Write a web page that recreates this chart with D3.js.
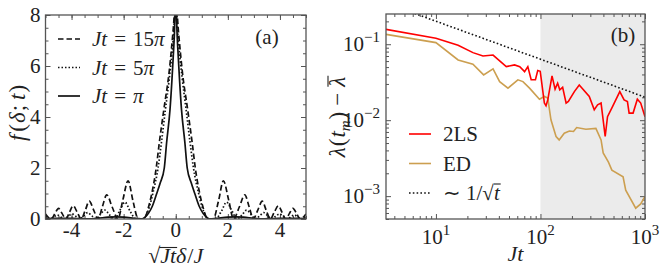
<!DOCTYPE html>
<html>
<head>
<meta charset="utf-8">
<script src="https://cdn.jsdelivr.net/npm/d3@7"></script>
<style>
  body { margin: 0; background: #fff; }
  svg { display: block; }
  text { fill: #222; white-space: pre; }
</style>
</head>
<body>
<svg id="fig" width="665" height="278"></svg>
<script>
// ---- panel (a): f(delta; t) vs sqrt(Jt) delta / J
const xDash = [-5, -4.78, -4.64, -4.5, -4.36, -4.22, -4.08, -3.94, -3.78, -3.63, -3.47, -3.32, -3.15, -2.98, -2.82, -2.65, -2.44, -2.22, -2.03, -1.83, -1.64, -1.45, -1.25, -1.15, -1.05, -0.92, -0.75, -0.63, -0.46, -0.25, -0.1, 0,
  0.1, 0.25, 0.46, 0.63, 0.75, 0.92, 1.05, 1.15, 1.25, 1.45, 1.64, 1.83, 2.03, 2.22, 2.44, 2.65, 2.82, 2.98, 3.15, 3.32, 3.47, 3.63, 3.78, 3.94, 4.08, 4.22, 4.36, 4.5, 4.64, 4.78, 5]
const fDash = [0.2, 0, 0.21, 0.42, 0.21, 0, 0.26, 0.52, 0.26, 0, 0.35, 0.7, 0.35, 0, 0.47, 0.95, 0.47, 0, 0.75, 1.5, 0.7, 0.02, 0, 0.12, 0.45, 1.0, 2.0, 3.0, 4.27, 5.8, 7.4, 8.6,
  7.4, 5.8, 4.27, 3.0, 2.0, 1.0, 0.45, 0.12, 0, 0.02, 0.7, 1.5, 0.75, 0, 0.47, 0.95, 0.47, 0, 0.35, 0.7, 0.35, 0, 0.26, 0.52, 0.26, 0, 0.21, 0.42, 0.21, 0, 0.2]

const xDot = [-5, -4.82, -4.68, -4.55, -4.42, -4.28, -4.13, -3.98, -3.83, -3.68, -3.53, -3.38, -3.22, -3.05, -2.9, -2.72, -2.55, -2.35, -2.15, -1.95, -1.75, -1.55, -1.28, -1.15, -1.02, -0.88, -0.68, -0.55, -0.4, -0.25, -0.1, 0,
  0.1, 0.25, 0.4, 0.55, 0.68, 0.88, 1.02, 1.15, 1.28, 1.55, 1.75, 1.95, 2.15, 2.35, 2.55, 2.72, 2.9, 3.05, 3.22, 3.38, 3.53, 3.68, 3.83, 3.98, 4.13, 4.28, 4.42, 4.55, 4.68, 4.82, 5]
const fDot = [0.1, 0, 0.08, 0.16, 0.08, 0, 0.1, 0.2, 0.1, 0, 0.12, 0.25, 0.12, 0, 0.17, 0.35, 0.17, 0, 0.33, 0.66, 0.3, 0.02, 0, 0.12, 0.45, 1.0, 2.0, 3.0, 4.27, 5.5, 7.0, 8.4,
  7.0, 5.5, 4.27, 3.0, 2.0, 1.0, 0.45, 0.12, 0, 0.02, 0.3, 0.66, 0.33, 0, 0.17, 0.35, 0.17, 0, 0.12, 0.25, 0.12, 0, 0.1, 0.2, 0.1, 0, 0.08, 0.16, 0.08, 0, 0.1]

const xSolid = [-5, -4.6, -4.2, -3.8, -3.4, -3.0, -2.6, -2.3, -2.0, -1.6, -1.3, -1.2, -1.05, -0.9, -0.73, -0.6, -0.44, -0.35, -0.22, -0.1, -0.05, 0,
  0.05, 0.1, 0.22, 0.35, 0.44, 0.6, 0.73, 0.9, 1.05, 1.2, 1.3, 1.6, 2.0, 2.3, 2.6, 3.0, 3.4, 3.8, 4.2, 4.6, 5]
const fSolid = [0.02, 0.03, 0.03, 0.02, 0.01, 0.03, 0.07, 0.08, 0.07, 0.03, 0, 0.05, 0.22, 0.5, 1.0, 1.4, 2.0, 3.0, 4.3, 6.3, 7.3, 8.8,
  7.3, 6.3, 4.3, 3.0, 2.0, 1.4, 1.0, 0.5, 0.22, 0.05, 0, 0.03, 0.07, 0.08, 0.07, 0.03, 0.01, 0.02, 0.03, 0.03, 0.02]

const xTicksA = [-4, -2, 0, 2, 4]
const yTicksA = [0, 2, 4, 6, 8]

// ---- panel (b): lambda(t_m) - mean vs Jt (log-log)
const t2LS = [3.33, 10, 16.3, 22.6, 28.2, 35.2, 47.1, 56.5, 63.4, 70.5, 75.7, 81.5, 89.5, 94.2, 99.5, 109, 113, 117.5, 129, 138, 146, 153, 163, 176, 185, 211, 235, 293, 327, 352, 380, 416, 438, 489, 574, 631, 679, 705, 769, 845, 910, 1000]
const lam2LS = [0.157, 0.12, 0.097, 0.0775, 0.070, 0.072, 0.0507, 0.0534, 0.0507, 0.0436, 0.0507, 0.034, 0.034, 0.045, 0.044, 0.0168, 0.0155, 0.0185, 0.0383, 0.0256, 0.0307, 0.0251, 0.0271, 0.0168, 0.0176, 0.0238, 0.0291, 0.0205, 0.0137, 0.0159, 0.0168, 0.0061, 0.0111, 0.0151, 0.0238, 0.0185, 0.0176, 0.0124, 0.0124, 0.0189, 0.0168, 0.0111]

const tED = [3.33, 10, 16.3, 22.6, 28.6, 35.2, 40.7, 48.9, 60.8, 68, 78.6, 97.8, 109, 117.5, 126, 141, 151, 169, 189, 207, 222, 272, 339, 380, 398, 447, 482, 617, 654, 815, 910, 1000]
const lamED = [0.135, 0.105, 0.062, 0.0545, 0.0395, 0.0473, 0.0322, 0.0264, 0.034, 0.0322, 0.0264, 0.0189, 0.0205, 0.0195, 0.0101, 0.0061, 0.0055, 0.00675, 0.0072, 0.0071, 0.0080, 0.0076, 0.0078, 0.0055, 0.0037, 0.0028, 0.0022, 0.0018, 0.0012, 0.000695, 0.00079, 0.00099]

const tGuide = [3.33, 1000]
const lamGuide = [0.348, 0.0201]

const shadeFrom = 100
const xTicksB = [10, 100, 1000]
const yTicksB = [0.001, 0.01, 0.1]

const svg = d3.select('#fig')
const ink = '#555'
const serif = '"Liberation Serif"'

// write a formula made of pieces: {t, it, dy, size, over}
function mtext (parent, x, y, parts, opts) {
  opts = opts || {}
  const size = opts.size || 21
  const outer = parent.append('g')
  const g = outer.append('g')
  let cx = 0
  parts.forEach(p => {
    const el = g.append('text')
      .attr('x', cx)
      .attr('y', p.dy || 0)
      .style('font-family', serif)
      .style('font-size', (p.size || size) + 'px')
      .style('font-style', p.it ? 'italic' : 'normal')
      .text(p.t)
    const w = el.node().getComputedTextLength()
    if (p.over !== undefined) {
      g.append('line')
        .attr('x1', cx + (p.ox || 0)).attr('x2', cx + w + 1)
        .attr('y1', p.over).attr('y2', p.over)
        .attr('stroke', '#222').attr('stroke-width', 1.1)
    }
    cx += w + (p.sp || 0)
  })
  const off = opts.anchor === 'middle' ? -cx / 2 : opts.anchor === 'end' ? -cx : 0
  outer.attr('transform', `translate(${x},${y})` + (opts.rot ? ` rotate(${opts.rot})` : ''))
  g.attr('transform', `translate(${off},0)`)
  return outer
}

function frame (g, w, h) {
  g.append('rect')
    .attr('width', w).attr('height', h)
    .attr('fill', 'none').attr('stroke', ink).attr('stroke-width', 1.3)
}

function styleAxis (a) {
  a.select('.domain').remove()
  a.selectAll('line').attr('stroke', ink).attr('stroke-width', 1)
  a.selectAll('text').remove()
}

// ================= panel (a) =================
const A = { left: 45.5, top: 15, w: 260.5, h: 204 }
const ga = svg.append('g').attr('transform', `translate(${A.left},${A.top})`)
const xa = d3.scaleLinear().domain([-5, 5]).range([0, A.w])
const ya = d3.scaleLinear().domain([0, 8]).range([A.h, 0])

ga.append('clipPath').attr('id', 'clipA')
  .append('rect').attr('width', A.w).attr('height', A.h)

const minorXA = d3.range(-5, 5.01, 0.5)
const minorYA = d3.range(0, 8.01, 0.5)
;[
  [d3.axisBottom(xa).tickValues(xTicksA).tickSize(-5), `translate(0,${A.h})`],
  [d3.axisBottom(xa).tickValues(minorXA).tickSize(-3), `translate(0,${A.h})`],
  [d3.axisTop(xa).tickValues(xTicksA).tickSize(-5), 'translate(0,0)'],
  [d3.axisTop(xa).tickValues(minorXA).tickSize(-3), 'translate(0,0)'],
  [d3.axisLeft(ya).tickValues(yTicksA).tickSize(-5), 'translate(0,0)'],
  [d3.axisLeft(ya).tickValues(minorYA).tickSize(-3), 'translate(0,0)'],
  [d3.axisRight(ya).tickValues(yTicksA).tickSize(-5), `translate(${A.w},0)`],
  [d3.axisRight(ya).tickValues(minorYA).tickSize(-3), `translate(${A.w},0)`]
].forEach(([ax, tr]) => styleAxis(ga.append('g').attr('transform', tr).call(ax)))

const lineA = d3.line().curve(d3.curveMonotoneX)
const curvesA = [
  { x: xSolid, y: fSolid, dash: null },
  { x: xDot, y: fDot, dash: '1.5,2' },
  { x: xDash, y: fDash, dash: '5.5,3' }
]
const plotA = ga.append('g').attr('clip-path', 'url(#clipA)')
curvesA.forEach(c => {
  plotA.append('path')
    .datum(c.x.map((v, i) => [xa(v), ya(c.y[i])]))
    .attr('d', lineA)
    .attr('fill', 'none').attr('stroke', '#111').attr('stroke-width', 1.7)
    .attr('stroke-dasharray', c.dash)
})
frame(ga, A.w, A.h)

xTicksA.forEach(v => {
  mtext(ga, xa(v), A.h + 18, [{ t: String(v) }], { anchor: 'middle' })
})
yTicksA.forEach(v => {
  mtext(ga, -5, ya(v) + 7, [{ t: String(v) }], { anchor: 'end' })
})

// legend (a)
const legA = [
  { dash: '5.5,3', lab: '15' },
  { dash: '1.5,2', lab: '5' },
  { dash: null, lab: '' }
]
legA.forEach((d, i) => {
  const yy = 39 + i * 28.5
  svg.append('line').attr('x1', 58).attr('x2', 80).attr('y1', yy).attr('y2', yy)
    .attr('stroke', '#111').attr('stroke-width', 1.7).attr('stroke-dasharray', d.dash)
  mtext(svg, 92, yy + 7, [
    { t: 'J', it: true }, { t: 't', it: true, sp: 7 },
    { t: '=', sp: 7 }, { t: d.lab }, { t: 'π', it: true }
  ])
})
mtext(svg, 267, 44, [{ t: '(a)' }], { anchor: 'middle' })

mtext(svg, 175.7, 263, [
  { t: '√', size: 22 }, { t: 'Jt', it: true, size: 22, over: -15.5, ox: -1 }, { t: 'δ', it: true, size: 22, sp: 1 },
  { t: '/', size: 22 }, { t: 'J', it: true, size: 22 }
], { anchor: 'middle' })
mtext(svg, 25, 113, [
  { t: 'f', it: true, sp: 3 }, { t: '(', sp: 1 }, { t: 'δ', it: true, sp: 1 }, { t: ';', sp: 5 }, { t: 't', it: true, sp: 1 }, { t: ')' }
], { anchor: 'middle', rot: -90, size: 23 })

// ================= panel (b) =================
const B = { left: 386, top: 14, w: 259, h: 205 }
const gb = svg.append('g').attr('transform', `translate(${B.left},${B.top})`)
const xb = d3.scaleLog().domain([3.33, 1000]).range([0, B.w])
const yb = d3.scaleLog().domain([5e-4, 0.25]).range([B.h, 0])

gb.append('clipPath').attr('id', 'clipB')
  .append('rect').attr('width', B.w).attr('height', B.h)

gb.append('rect')
  .attr('x', xb(shadeFrom)).attr('width', B.w - xb(shadeFrom))
  .attr('height', B.h).attr('fill', '#ebebeb')

const minorXB = []
;[1, 10, 100].forEach(d => d3.range(2, 10).forEach(k => { if (d * k >= 3.33) minorXB.push(d * k) }))
const minorYB = []
;[0.0001, 0.001, 0.01, 0.1].forEach(d => d3.range(2, 10).forEach(k => {
  const v = d * k
  if (v >= 5e-4 && v <= 0.25) minorYB.push(v)
}))
;[
  [d3.axisBottom(xb).tickValues(xTicksB).tickSize(-5), `translate(0,${B.h})`],
  [d3.axisBottom(xb).tickValues(minorXB).tickSize(-3), `translate(0,${B.h})`],
  [d3.axisTop(xb).tickValues(xTicksB).tickSize(-5), 'translate(0,0)'],
  [d3.axisTop(xb).tickValues(minorXB).tickSize(-3), 'translate(0,0)'],
  [d3.axisLeft(yb).tickValues(yTicksB).tickSize(-5), 'translate(0,0)'],
  [d3.axisLeft(yb).tickValues(minorYB).tickSize(-3), 'translate(0,0)'],
  [d3.axisRight(yb).tickValues(yTicksB).tickSize(-5), `translate(${B.w},0)`],
  [d3.axisRight(yb).tickValues(minorYB).tickSize(-3), `translate(${B.w},0)`]
].forEach(([ax, tr]) => styleAxis(gb.append('g').attr('transform', tr).call(ax)))

const lineB = d3.line()
const plotB = gb.append('g').attr('clip-path', 'url(#clipB)')
plotB.append('path')
  .datum(tGuide.map((t, i) => [xb(t), yb(lamGuide[i])]))
  .attr('d', lineB).attr('fill', 'none')
  .attr('stroke', '#111').attr('stroke-width', 1.6).attr('stroke-dasharray', '1.6,2.2')
plotB.append('path')
  .datum(tED.map((t, i) => [xb(t), yb(lamED[i])]))
  .attr('d', lineB).attr('fill', 'none')
  .attr('stroke', '#cc9f50').attr('stroke-width', 1.6)
plotB.append('path')
  .datum(t2LS.map((t, i) => [xb(t), yb(lam2LS[i])]))
  .attr('d', lineB).attr('fill', 'none')
  .attr('stroke', '#ff0000').attr('stroke-width', 1.6)
frame(gb, B.w, B.h)

const expo = { 10: '1', 100: '2', 1000: '3', 0.1: '−1', 0.01: '−2', 0.001: '−3' }
xTicksB.forEach(v => {
  mtext(gb, xb(v), B.h + 25, [{ t: '10' }, { t: expo[v], size: 15, dy: -9 }], { anchor: 'middle' })
})
yTicksB.forEach(v => {
  mtext(gb, -6, yb(v) + 7, [{ t: '10' }, { t: expo[v], size: 15, dy: -9 }], { anchor: 'end' })
})

// legend (b)
const legB = [
  { col: '#ff0000', dash: null, parts: [{ t: '2LS' }] },
  { col: '#cc9f50', dash: null, parts: [{ t: 'ED' }] },
  { col: '#111', dash: '1.6,2.2', parts: [{ t: '∼', sp: 5 }, { t: '1/√' }, { t: 't', it: true, over: -16 }] }
]
legB.forEach((d, i) => {
  const yy = 134 + i * 29.5
  svg.append('line').attr('x1', 409).attr('x2', 431).attr('y1', yy).attr('y2', yy)
    .attr('stroke', d.col).attr('stroke-width', 1.6).attr('stroke-dasharray', d.dash)
  mtext(svg, 443, yy + 7, d.parts)
})
mtext(svg, 623, 42, [{ t: '(b)' }], { anchor: 'middle' })

mtext(svg, 515.5, 261, [{ t: 'J', it: true, size: 22 }, { t: 't', it: true, size: 22 }], { anchor: 'middle' })
mtext(svg, 345, 117, [
  { t: 'λ', it: true, sp: 1 }, { t: '(', sp: 1 }, { t: 't', it: true }, { t: 'm', it: true, size: 15, dy: 5, sp: 1 },
  { t: ')', sp: 6 }, { t: '−', sp: 6 }, { t: 'λ', it: true, over: -17 }
], { anchor: 'middle', rot: -90, size: 23 })
</script>
</body>
</html>
